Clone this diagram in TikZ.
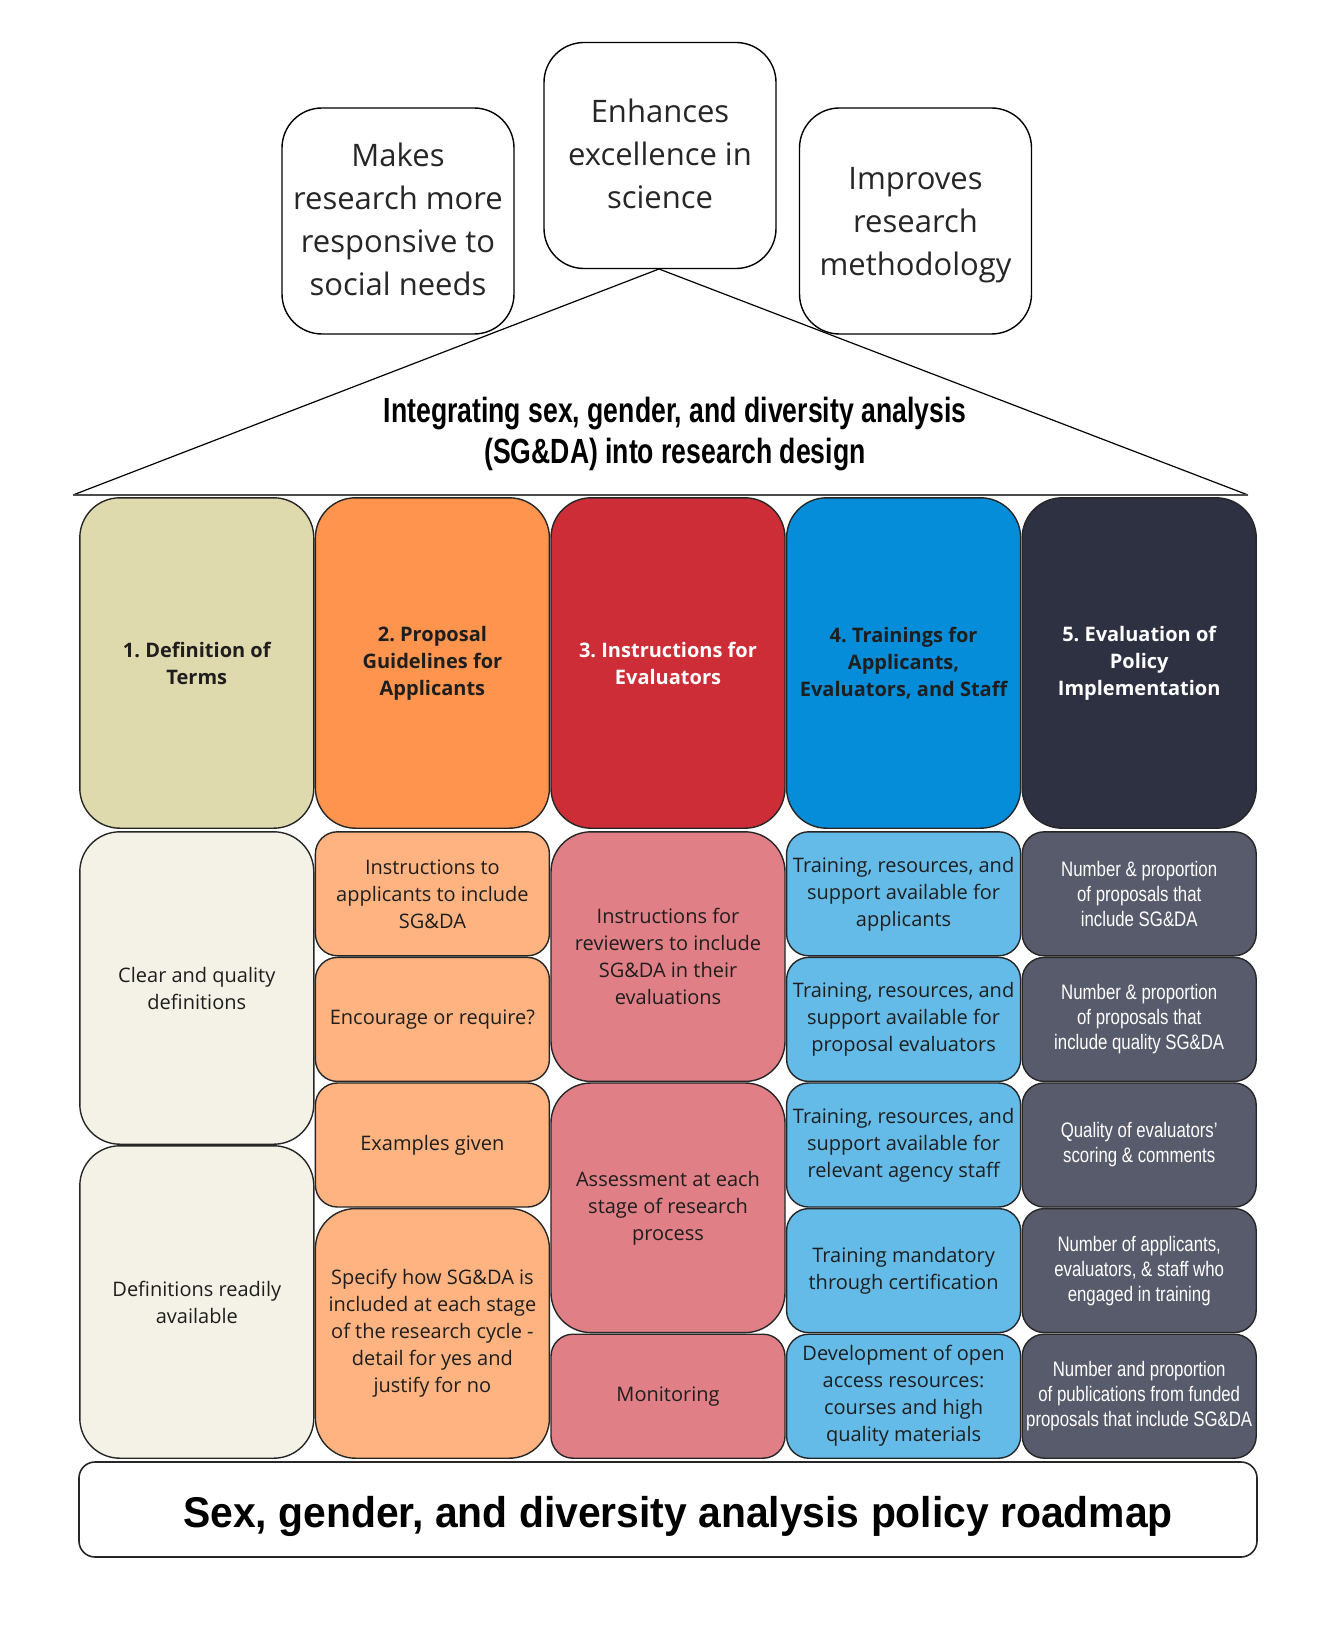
\documentclass[tikz,border=0pt]{standalone}
\usepackage{fontspec}
\setmainfont{Open Sans}
\newfontfamily\narrowfont[FakeStretch=0.8]{Liberation Sans}
\newfontfamily\rooftitlefont[FakeStretch=0.76]{Liberation Sans}
\newfontfamily\bottomtitlefont[FakeStretch=0.95]{Liberation Sans}
\definecolor{ha}{HTML}{DFD9AE}
\definecolor{ba}{HTML}{F4F2E6}
\definecolor{hb}{HTML}{FF944E}
\definecolor{bb}{HTML}{FFB380}
\definecolor{hc}{HTML}{CC2D36}
\definecolor{bc}{HTML}{E07F86}
\definecolor{hd}{HTML}{068DD9}
\definecolor{bd}{HTML}{65BBE8}
\definecolor{he}{HTML}{2D3142}
\definecolor{be}{HTML}{585B6B}
\definecolor{ink}{HTML}{1E1E1E}
\frenchspacing
\newcommand\mycell[7]{%
  \pgfmathsetmacro\mcw{(#4-#2)*0.5-0.8}%
  \pgfmathsetmacro\mch{(#5-#3)*0.5-0.8}%
  \node[#6, minimum width=\mcw pt, minimum height=\mch pt] (#1) at ({(#2+#4)/2},{(#3+#5)/2}) {#7};}
\begin{document}
\begin{tikzpicture}[x=0.5pt,y=-0.5pt,
  cellbase/.style={draw=black!85, line width=0.7pt, align=flush center, inner sep=2pt, text width=113pt, text=ink},
  hdr/.style={cellbase, rounded corners=20pt, font=\bfseries\fontsize{10}{13.5}\selectfont},
  body/.style={cellbase, rounded corners=11pt, font=\fontsize{10}{13.5}\selectfont},
  bigbody/.style={body, rounded corners=20pt},
  ind/.style={cellbase, rounded corners=11pt, fill=be, text=white,
    font=\narrowfont\fontsize{10.5}{12.5}\selectfont},
  topbox/.style={draw=black, line width=0.7pt, fill=white, rounded corners=20pt, align=flush center,
    font=\fontsize{15.5}{21.5}\selectfont, text=black!85, minimum width=116pt, minimum height=113pt}]
\useasboundingbox (0,0) rectangle (1321,1636);

% roof
\coordinate (apex) at (659,269);
\coordinate (baseL) at (73,495);
\coordinate (baseR) at (1248,495);
\draw[line width=0.6pt] (baseL) -- (apex) -- (baseR);
\draw[line width=1.1pt, black!70] (baseL) -- (baseR);
\node[font=\rooftitlefont\bfseries\fontsize{17.5}{20.3}\selectfont, align=center] (rooftitle) at (675,434)
  {Integrating sex, gender, and diversity analysis\\(SG\&DA) into research design};

% top boxes
\node[topbox, text depth=2pt] (tl) at (398,221) {Makes\\research more\\responsive to\\social needs};
\node[topbox, text depth=2pt] (tc) at (660,155.5) {Enhances\\excellence in\\science};
\node[topbox, text depth=0pt] (tr) at (915.5,221) {Improves\\research\\methodology};

% headers
\mycell{h1}{79}{497}{314.6}{829}{hdr, fill=ha}{1. Definition of\\Terms}
\mycell{h2}{314.6}{497}{550.2}{829}{hdr, fill=hb}{2. Proposal\\Guidelines for\\Applicants}
\mycell{h3}{550.2}{497}{785.8}{829}{hdr, fill=hc, text=white}{3. Instructions for\\Evaluators}
\mycell{h4}{785.8}{497}{1021.4}{829}{hdr, fill=hd}{4. Trainings for\\Applicants,\\Evaluators, and Staff}
\mycell{h5}{1021.4}{497}{1257}{829}{hdr, fill=he, text=white}{5. Evaluation of\\Policy\\Implementation}

% column 1
\mycell{a1}{79}{831}{314.6}{1145}{bigbody, fill=ba}{Clear and quality\\definitions}
\mycell{a2}{79}{1145}{314.6}{1459}{bigbody, fill=ba}{Definitions readily\\available}

% column 2
\mycell{b1}{314.6}{831}{550.2}{956.6}{body, fill=bb}{Instructions to\\applicants to include\\SG\&DA}
\mycell{b2}{314.6}{956.6}{550.2}{1082.2}{body, fill=bb}{Encourage or require?}
\mycell{b3}{314.6}{1082.2}{550.2}{1207.8}{body, fill=bb}{Examples given}
\mycell{b4}{314.6}{1207.8}{550.2}{1459}{bigbody, fill=bb}{Specify how SG\&DA is\\included at each stage\\of the research cycle -\\detail for yes and\\justify for no}

% column 3
\mycell{c1}{550.2}{831}{785.8}{1082.2}{bigbody, fill=bc}{Instructions for\\reviewers to include\\SG\&DA in their\\evaluations}
\mycell{c2}{550.2}{1082.2}{785.8}{1333.4}{bigbody, fill=bc}{Assessment at each\\stage of research\\process}
\mycell{c3}{550.2}{1333.4}{785.8}{1459}{body, fill=bc}{Monitoring}

% column 4
\mycell{d1}{785.8}{831}{1021.4}{956.6}{body, fill=bd}{Training, resources, and\\support available for\\applicants}
\mycell{d2}{785.8}{956.6}{1021.4}{1082.2}{body, fill=bd}{Training, resources, and\\support available for\\proposal evaluators}
\mycell{d3}{785.8}{1082.2}{1021.4}{1207.8}{body, fill=bd}{Training, resources, and\\support available for\\relevant agency staff}
\mycell{d4}{785.8}{1207.8}{1021.4}{1333.4}{body, fill=bd}{Training mandatory\\through certification}
\mycell{d5}{785.8}{1333.4}{1021.4}{1459}{body, fill=bd}{Development of open\\access resources:\\courses and high\\quality materials}

% column 5
\mycell{e1}{1021.4}{831}{1257}{956.6}{ind}{Number \& proportion\\of proposals that\\include SG\&DA}
\mycell{e2}{1021.4}{956.6}{1257}{1082.2}{ind}{Number \& proportion\\of proposals that\\include quality SG\&DA}
\mycell{e3}{1021.4}{1082.2}{1257}{1207.8}{ind}{Quality of evaluators’\\scoring \& comments}
\mycell{e4}{1021.4}{1207.8}{1257}{1333.4}{ind}{Number of applicants,\\evaluators, \& staff who\\engaged in training}
\mycell{e5}{1021.4}{1333.4}{1257}{1459}{ind}{Number and proportion\\of publications from funded\\proposals that include SG\&DA}

% bottom
\node[draw=black!85, line width=0.8pt, fill=white, rounded corners=8pt, minimum width=589pt, minimum height=47.5pt] (basebox) at (668,1509.5) {};
\node[font=\bottomtitlefont\bfseries\fontsize{21.5}{25}\selectfont] (basetitle) at (678,1516)
  {Sex, gender, and diversity analysis policy roadmap};
\end{tikzpicture}
\end{document}
